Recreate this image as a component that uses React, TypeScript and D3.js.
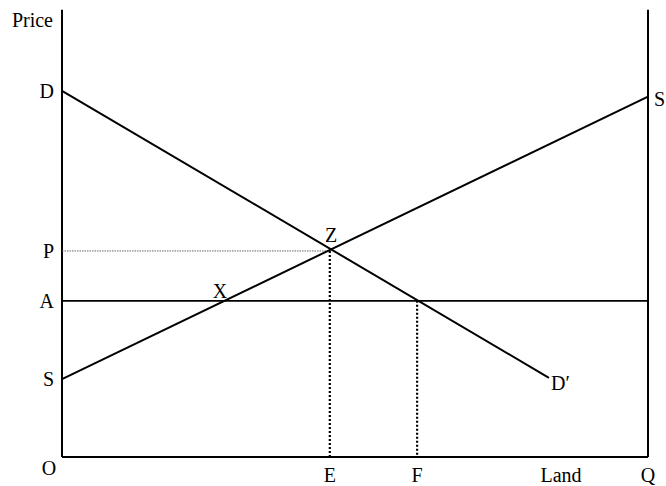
import React from "react";
import * as d3 from "d3";

// Diagram values in abstract units (Land 0..100, Price 0..100)
const demandLine = [
  { x: 0, y: 82.3 },
  { x: 83.1, y: 17.8 },
];
const supplyLine = [
  { x: 0, y: 17.5 },
  { x: 100, y: 81 },
];
const priceP = 46.3;
const priceA = 35.1;
const landE = 45.7;
const landF = 60.6;
const landQ = 100;
const yLabels = [
  { label: "D", y: 82.3 },
  { label: "P", y: 46.3 },
  { label: "A", y: 35.1 },
  { label: "S", y: 17.5 },
];
const xLabels = [
  { label: "E", x: 45.7 },
  { label: "F", x: 60.6 },
  { label: "Q", x: 100 },
];

const W = 666;
const H = 486;
const font = "'Liberation Serif', 'Times New Roman', serif";

export default function App() {
  const x = d3.scaleLinear().domain([0, 100]).range([62, 648]);
  const y = d3.scaleLinear().domain([0, 100]).range([457, 12]);
  const line = d3
    .line<{ x: number; y: number }>()
    .x((d) => x(d.x))
    .y((d) => y(d.y));
  const fs = 20;
  return (
    <svg
      width={W}
      height={H}
      style={{ position: "absolute", left: 0, top: 0, background: "#fff" }}
      fontFamily={font}
      fontSize={fs}
    >
      {/* axes */}
      <line x1={x(0)} y1={y(100.5)} x2={x(0)} y2={y(0)} stroke="#000" strokeWidth={2} />
      <line x1={x(0)} y1={y(0)} x2={x(landQ)} y2={y(0)} stroke="#000" strokeWidth={2} />
      <line x1={x(landQ)} y1={y(100.5)} x2={x(landQ)} y2={y(0)} stroke="#000" strokeWidth={2} />
      {/* P dotted */}
      <line
        x1={x(0)}
        y1={y(priceP)}
        x2={x(landE)}
        y2={y(priceP)}
        stroke="#666"
        strokeWidth={1}
        strokeDasharray="1.5 1"
      />
      {/* A line */}
      <line x1={x(0)} y1={y(priceA)} x2={x(landQ)} y2={y(priceA)} stroke="#000" strokeWidth={1.8} />
      {/* E, F dotted verticals */}
      <line
        x1={x(landE)}
        y1={y(priceP)}
        x2={x(landE)}
        y2={y(0)}
        stroke="#000"
        strokeWidth={2.2}
        strokeDasharray="2 2"
      />
      <line
        x1={x(landF)}
        y1={y(priceA)}
        x2={x(landF)}
        y2={y(0)}
        stroke="#000"
        strokeWidth={2.2}
        strokeDasharray="2 2"
      />
      {/* curves */}
      <path d={line(demandLine) || ""} fill="none" stroke="#000" strokeWidth={2} />
      <path d={line(supplyLine) || ""} fill="none" stroke="#000" strokeWidth={2} />
      {/* labels */}
      <text x={53} y={27} textAnchor="end">Price</text>
      {yLabels.map((d) => (
        <text key={d.label} x={54} y={y(d.y)} dy="0.35em" textAnchor="end">
          {d.label}
        </text>
      ))}
      <text x={49} y={y(0) + 18} textAnchor="middle">O</text>
      {xLabels.map((d) => (
        <text key={d.label} x={x(d.x)} y={y(0) + 25} textAnchor="middle">
          {d.label}
        </text>
      ))}
      <text x={561} y={y(0) + 25} textAnchor="middle">Land</text>
      <text x={x(landQ) + 6} y={y(81) + 2} dy="0.35em" textAnchor="start">S</text>
      <text x={331} y={235} dy="0.35em" textAnchor="middle">Z</text>
      <text x={220} y={291} dy="0.35em" textAnchor="middle">X</text>
      <text x={551} y={383} dy="0.35em" textAnchor="start">D′</text>
    </svg>
  );
}
